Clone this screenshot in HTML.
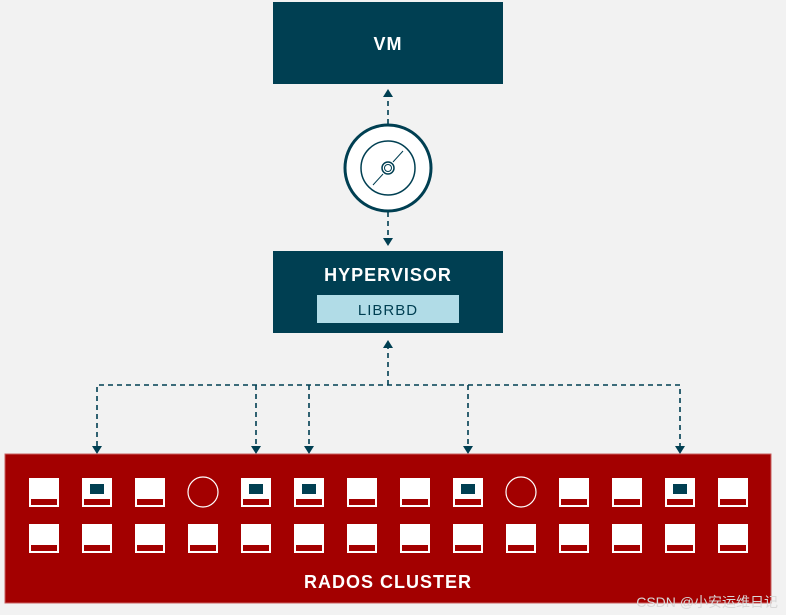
<!DOCTYPE html>
<html><head><meta charset="utf-8"><style>
body{margin:0;background:#f2f2f2;width:786px;height:615px;overflow:hidden}
</style></head><body>
<svg width="786" height="615" xmlns="http://www.w3.org/2000/svg" style="position:absolute;left:0;top:0">
<rect width="786" height="615" fill="#f2f2f2"/>
<rect x="273" y="2" width="230" height="82" fill="#003f52"/>
<text x="388" y="50" fill="#fff" font-family="Liberation Sans, sans-serif" font-weight="bold" font-size="18" text-anchor="middle" letter-spacing="1">VM</text>
<g stroke="#003f52" stroke-width="1.6" stroke-dasharray="5,4" fill="none">
<line x1="388" y1="124" x2="388" y2="96"/>
<line x1="388" y1="212" x2="388" y2="238"/>
<line x1="388" y1="385" x2="388" y2="348"/>
<polyline points="97,446 97,385 680,385 680,446"/>
<line x1="256" y1="385" x2="256" y2="446"/>
<line x1="309" y1="385" x2="309" y2="446"/>
<line x1="468" y1="385" x2="468" y2="446"/>
</g>
<g fill="#003f52">
<polygon points="383,97 393,97 388,89"/>
<polygon points="383,238 393,238 388,246"/>
<polygon points="383,348 393,348 388,340"/>
<polygon points="92,446 102,446 97,454"/>
<polygon points="251,446 261,446 256,454"/>
<polygon points="304,446 314,446 309,454"/>
<polygon points="463,446 473,446 468,454"/>
<polygon points="675,446 685,446 680,454"/>
</g>
<circle cx="388" cy="168" r="43" fill="#fff" stroke="#003f52" stroke-width="3"/>
<circle cx="388" cy="168" r="27" fill="none" stroke="#003f52" stroke-width="1.5"/>
<circle cx="388" cy="168" r="6" fill="none" stroke="#003f52" stroke-width="1.5"/>
<circle cx="388" cy="168" r="3.5" fill="none" stroke="#003f52" stroke-width="1"/>
<line x1="373" y1="185" x2="383" y2="174" stroke="#003f52" stroke-width="1"/>
<line x1="393" y1="162" x2="403" y2="151" stroke="#003f52" stroke-width="1"/>
<rect x="273" y="251" width="230" height="82" fill="#003f52"/>
<text x="388" y="281" fill="#fff" font-family="Liberation Sans, sans-serif" font-weight="bold" font-size="18" text-anchor="middle" letter-spacing="1">HYPERVISOR</text>
<rect x="317" y="295" width="142" height="28" fill="#b1dce7"/>
<text x="388" y="315" fill="#003f52" font-family="Liberation Sans, sans-serif" font-size="15" text-anchor="middle" letter-spacing="1">LIBRBD</text>
<rect x="5" y="454" width="766" height="149" fill="#a30000" stroke="#c86060" stroke-width="1"/>
<g id="t">
</g>
<text x="388" y="588" fill="#fff" font-family="Liberation Sans, sans-serif" font-weight="bold" font-size="18" text-anchor="middle" letter-spacing="1">RADOS CLUSTER</text>
<text x="778" y="607" fill="#d8d8d8" font-family="Liberation Sans, 'Noto Sans CJK SC', sans-serif" font-size="14" text-anchor="end">CSDN @小安运维日记</text>
</svg>
<script>
var g=document.getElementById('t'),ns='http://www.w3.org/2000/svg',types='pdpcddppdcppdp';
function r(x,y,w,h,f,s){var e=document.createElementNS(ns,'rect');e.setAttribute('x',x);e.setAttribute('y',y);e.setAttribute('width',w);e.setAttribute('height',h);e.setAttribute('fill',f);if(s){e.setAttribute('stroke',s);}g.appendChild(e);}
for(var i=0;i<14;i++){var x=29+53*i;
 [478,524].forEach(function(y,row){var t=row?'p':types[i];
  if(t=='c'){var c=document.createElementNS(ns,'circle');c.setAttribute('cx',x+15);c.setAttribute('cy',y+14);c.setAttribute('r',15);c.setAttribute('fill','none');c.setAttribute('stroke','#fff');c.setAttribute('stroke-width','1.2');g.appendChild(c);return;}
  r(x,y,30,29,'#fff');r(x+2,y+21,26,6,'#a30000');
  if(t=='d')r(x+8,y+6,14,10,'#003f52');});}
</script>
</body></html>
